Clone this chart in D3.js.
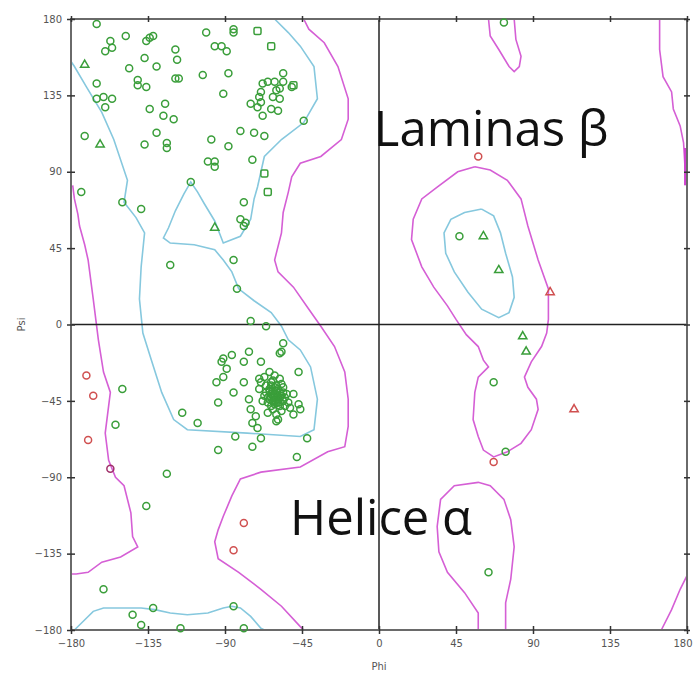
<!DOCTYPE html>
<html><head><meta charset="utf-8">
<script src="https://cdn.jsdelivr.net/npm/d3@7"></script>
<style>body{margin:0;background:#fff}svg{display:block}</style>
</head><body>
<svg id="c" width="693" height="677"></svg>
<script>
// ---------- DATA ----------
const tickValues = [-180,-135,-90,-45,0,45,90,135,180];
const xLabel = "Phi", yLabel = "Psi";
const annotations = [["Laminas β",-3,105],["Helice α",-52,-124]];

// General residues, favoured (green circles) [phi, psi]
const generalFav = [
 [-165,177],[-148,170],[-157,167],[-160,161],[-156,163],[-136,167],[-134,169],[-132,170],
 [-119,162],[-118,156],[-137,157],[-146,151],[-130,152],[-101,172],[-96,164],[-92,164],
 [-89,161],[-85,174],[-85,172],[-103,147],[-88,148],[-119,145],[-117,145],[-141,144],
 [-141,141],[-136,140],[-165,142],[-165,133],[-161,134],[-160,128],[-156,133],[-134,127],
 [-125,130],[-126,123],[-120,121],[-91,136],[-172,111],[-137,106],[-130,113],[-124,107],
 [-124,104],[-98,109],[-88,105],[-100,96],[-96,96],[-96,93],[-81,114],[-73,113],[-67,111],
 [-74,97],[-110,84],[-174,78],[-150,72],[-139,68],[-79,72],[-81,62],[-78,60],[-79,58],
 [-68,142],[-65,143],[-61,143],[-56,148],[-56,143],[-51,140],[-58,139],[-60,138],[-62,134],
 [-69,137],[-70,134],[-69,131],[-75,130],[-71,128],[-58,133],[-63,127],[-59,126],[-68,123],
 [-44,120],[73,178],
 [-122,35],[-85,38],[-83,21],[-75,2],[-66,-1],[-56,-11],[-58,-17],[-57,-16],[-150,-38],
 [-154,-59],[-115,-52],[-106,-58],
 [-76,-16],[-79,-22],[-86,-18],[-91,-20],[-92,-22],[-89,-26],[-91,-31],[-95,-34],[-85,-40],
 [-94,-46],[-79,-34],[-69,-22],[-70,-32],[-76,-44],[-75,-50],[-72,-54],[-74,-58],[-59,-56],
 [-47,-28],[-50,-41],[-47,-47],[-46,-50],[-50,-53],[-84,-66],[-69,-67],[-74,-72],[-94,-74],
 [-42,-67],[-48,-78],[-71,-61],[-60,-57],
 [-64,-28],[-61,-30],[-67,-31],[-58,-32],[-63,-34],[-66,-36],[-60,-36],[-56,-37],[-70,-38],
 [-64,-39],[-61,-41],[-58,-40],[-54,-41],[-67,-42],[-63,-43],[-60,-44],[-56,-45],[-65,-46],
 [-61,-47],[-58,-48],[-53,-46],[-68,-45],[-62,-50],[-57,-51],[-64,-38],[-59,-42],[-62,-45],
 [-66,-40],[-55,-43],[-60,-39],[-63,-48],[-69,-34],[-57,-35],[-52,-49],[-65,-52],[-60,-53],
 [-62,-33],[-55,-48],[-61,-37],[-59,-46],
 [-63,-41],[-61,-43],[-59,-44],[-62,-39],[-60,-41],[-58,-43],[-64,-44],[-62,-42],[-60,-46],
 [-57,-42],[-63,-36],[-65,-43],[-59,-38],[-61,-45],[-58,-46],[-56,-40],
 [-124,-88],[-136,-107],[-161,-156],[-132,-167],[-144,-171],[-139,-177],[-116,-179],
 [-85,-166],[-79,-179],
 [47,52],[67,-34],[74,-75],[64,-146]
];
// Glycine (triangles)
const glycineFav = [[-172,153],[-163,106],[-96,57],[61,52],[70,32],[84,-7],[86,-16]];
const glycineOut = [[100,19],[114,-50]];
// Proline (squares)
const prolineFav = [[-71,173],[-63,164],[-67,89],[-65,78],[-50,141]];
// Outliers (red circles)
const generalOut = [[-171,-30],[-167,-42],[-170,-68],[-79,-117],[-85,-133],[58,99],[67,-81]];
const generalOutDark = [[-157,-85]];

// Contours: favoured (blue) and allowed (magenta)
const favouredContours = [
 [[-61,180],[-53,172],[-46,164],[-38,152],[-36,133],[-44,119],[-57,109],[-67,99],[-71,81],
  [-73,74],[-75,62],[-81,52],[-91,48],[-96,61],[-102,71],[-106,78],[-110,84],[-114,77],
  [-119,67],[-123,57],[-126,51],[-122,48],[-108,47],[-96,44],[-91,38],[-86,31],[-82,21],
  [-73,14],[-63,7],[-57,-1],[-53,-9],[-46,-15],[-40,-25],[-36,-44],[-38,-62],[-46,-66],
  [-77,-64],[-112,-62],[-120,-56],[-127,-40],[-133,-21],[-138,-5],[-140,15],[-139,34],
  [-137,54],[-142,63],[-149,72],[-147,85],[-155,109],[-162,125],[-171,140],[-178,152],[-180,155]],
 [[-178,-180],[-174,-176],[-167,-169],[-161,-167],[-147,-167],[-139,-167],[-131,-168],
  [-122,-170],[-112,-171],[-100,-170],[-91,-167],[-86,-166],[-81,-167],[-75,-172],[-69,-179],[-67,-180]],
 [[60,68],[50,66],[42,62],[38,54],[39,42],[44,31],[52,19],[60,9],[70,4],[76,7],[79,16],
  [78,28],[74,42],[71,54],[67,64],[60,68]]
];
const allowedContours = [
 [[-44,180],[-41,174],[-32,166],[-24,152],[-18,133],[-18,121],[-22,109],[-34,99],[-46,95],
  [-51,87],[-53,78],[-56,66],[-57,54],[-61,38],[-59,31],[-50,22],[-41,9],[-34,-1],[-26,-13],
  [-20,-28],[-18,-44],[-18,-60],[-20,-72],[-30,-75],[-46,-84],[-69,-87],[-81,-91],[-86,-101],
  [-91,-113],[-94,-121],[-96,-128],[-94,-138],[-82,-146],[-69,-156],[-57,-166],[-46,-178],[-44,-180]],
 [[-179,82],[-178,74],[-176,65],[-175,58],[-172,47],[-170,38],[-167,15],[-164,-9],[-161,-28],
  [-157,-40],[-158,-48],[-160,-64],[-158,-80],[-154,-90],[-149,-95],[-145,-111],[-144,-125],
  [-141,-131],[-151,-137],[-162,-140],[-170,-146],[-177,-147],[-180,-147]],
 [[64,180],[65,170],[70,162],[76,152],[79,149],[82,152],[83,158],[80,168],[79,180]],
 [[58,-180],[58,-170],[50,-158],[40,-146],[35,-134],[34,-119],[36,-103],[44,-95],[58,-93],
  [65,-95],[73,-103],[77,-115],[79,-131],[77,-150],[74,-164],[74,-180]],
 [[56,93],[65,91],[75,85],[83,74],[87,58],[93,38],[99,21],[99,3],[98,-5],[95,-13],[89,-22],
  [85,-31],[87,-37],[92,-44],[93,-50],[91,-56],[89,-62],[83,-70],[75,-75],[67,-78],[61,-74],
  [58,-66],[55,-56],[56,-40],[58,-31],[64,-25],[61,-21],[58,-13],[51,-6],[45,3],[40,11],
  [32,22],[25,34],[19,50],[20,62],[25,74],[34,81],[46,90],[56,93]],
 [[164,180],[164,162],[166,146],[171,137],[172,127],[176,117],[178,107],[179,90],[180,81]],
 [[165,-180],[171,-168],[176,-156],[180,-148]]
];
const allowedEdge = [[179.3,104],[179.3,82]];

// ---------- DRAW ----------
const svg = d3.select("#c");
const L=71,R=687,T=19,B=630;
const x = d3.scaleLinear().domain([-180,180]).range([L,R]);
const y = d3.scaleLinear().domain([-180,180]).range([B,T]);
const line = d3.line().x(d=>x(d[0])).y(d=>y(d[1]));

const g = svg.append("g");
// contours
g.selectAll(".fav").data(favouredContours).join("path")
 .attr("d",line).attr("fill","none").attr("stroke","#86c8de").attr("stroke-width",1.6);
g.selectAll(".alw").data(allowedContours).join("path")
 .attr("d",line).attr("fill","none").attr("stroke","#d55fd5").attr("stroke-width",1.6);
g.append("path").attr("d",line(allowedEdge)).attr("stroke","#d040d0").attr("stroke-width",3.5).attr("fill","none");

// zero lines
g.append("line").attr("x1",x(0)).attr("x2",x(0)).attr("y1",T).attr("y2",B).attr("stroke","#222").attr("stroke-width",1.5);
g.append("line").attr("x1",L).attr("x2",R).attr("y1",y(0)).attr("y2",y(0)).attr("stroke","#222").attr("stroke-width",1.5);

// frame
g.append("rect").attr("x",L).attr("y",T).attr("width",R-L).attr("height",B-T)
 .attr("fill","none").attr("stroke","#6a6a6a").attr("stroke-width",2);

// axes
function styleAxis(sel){ sel.select(".domain").remove();
  sel.selectAll(".tick line").attr("stroke","#333").attr("stroke-width",1.5);
  sel.selectAll(".tick text").attr("fill","#555").style("font-family","DejaVu Sans").style("font-size","10px"); }
const xb = svg.append("g").attr("transform",`translate(0,${B})`)
 .call(d3.axisBottom(x).tickValues(tickValues).tickSize(4).tickPadding(6)).call(styleAxis);
// keep the last label inside the window
xb.selectAll(".tick text").filter(d=>d===180).attr("text-anchor","end").attr("dx","5");
svg.append("g").attr("transform",`translate(0,${B})`)
 .call(d3.axisBottom(x).tickValues(tickValues).tickSize(-4).tickFormat("")).call(styleAxis);
svg.append("g").attr("transform",`translate(0,${T})`)
 .call(d3.axisTop(x).tickValues(tickValues).tickSize(3).tickFormat("")).call(styleAxis);
svg.append("g").attr("transform",`translate(0,${T})`)
 .call(d3.axisTop(x).tickValues(tickValues).tickSize(-3).tickFormat("")).call(styleAxis);
svg.append("g").attr("transform",`translate(${L},0)`)
 .call(d3.axisLeft(y).tickValues(tickValues).tickSize(4).tickPadding(5)).call(styleAxis);
svg.append("g").attr("transform",`translate(${L},0)`)
 .call(d3.axisLeft(y).tickValues(tickValues).tickSize(-4).tickFormat("")).call(styleAxis);
svg.append("g").attr("transform",`translate(${R},0)`)
 .call(d3.axisRight(y).tickValues(tickValues).tickSize(3).tickFormat("")).call(styleAxis);
svg.append("g").attr("transform",`translate(${R},0)`)
 .call(d3.axisRight(y).tickValues(tickValues).tickSize(-3).tickFormat("")).call(styleAxis);

svg.append("text").attr("x",x(0)).attr("y",670).attr("text-anchor","middle")
 .attr("fill","#555").style("font-family","DejaVu Sans").style("font-size","10px").text(xLabel);
svg.append("text").attr("transform",`translate(25,${y(0)}) rotate(-90)`).attr("text-anchor","middle")
 .attr("fill","#555").style("font-family","DejaVu Sans").style("font-size","10px").text(yLabel);

// markers
const green="#3a9e3a", red="#d05050";
function circles(data,col){
 g.selectAll(null).data(data).join("circle")
  .attr("cx",d=>x(d[0])).attr("cy",d=>y(d[1])).attr("r",3.5)
  .attr("fill","none").attr("stroke",col).attr("stroke-width",1.5);
}
circles(generalFav,green);
circles(generalOut,red);
circles(generalOutDark,"#a0306a");
const tri = d3.symbol().type(d3.symbolTriangle).size(30);
function triangles(data,col){
 g.selectAll(null).data(data).join("path")
  .attr("transform",d=>`translate(${x(d[0])},${y(d[1])})`).attr("d",tri)
  .attr("fill","none").attr("stroke",col).attr("stroke-width",1.5);
}
triangles(glycineFav,green);
triangles(glycineOut,red);
g.selectAll(null).data(prolineFav).join("rect")
 .attr("x",d=>x(d[0])-3.5).attr("y",d=>y(d[1])-3.5).attr("width",7).attr("height",7).attr("rx",1.5)
 .attr("fill","none").attr("stroke",green).attr("stroke-width",1.5);

// annotations
svg.selectAll(".ann").data(annotations).join("text")
 .attr("x",d=>x(d[1])).attr("y",d=>y(d[2]))
 .attr("fill","#111").style("font-family","'Open Sans'").style("font-size","49px").text(d=>d[0]);
</script>
</body></html>
